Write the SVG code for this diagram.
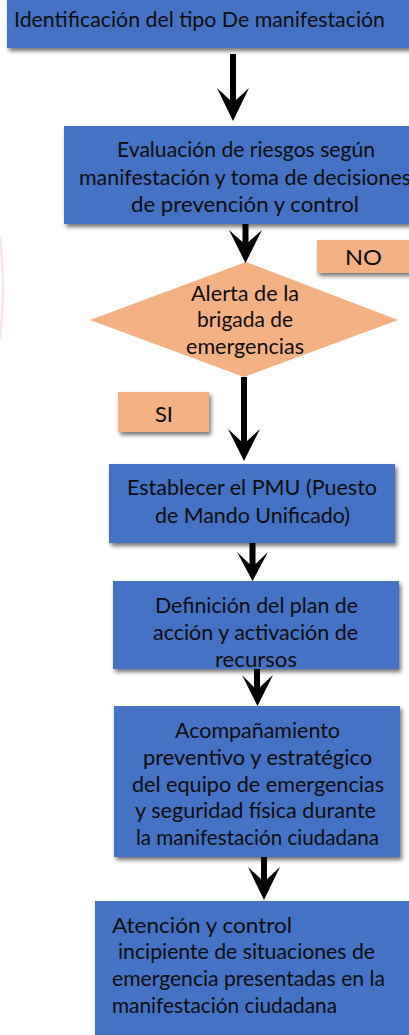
<svg xmlns="http://www.w3.org/2000/svg" width="409" height="1035" viewBox="0 0 409 1035">
<defs>
<filter id="sh" x="-10%" y="-10%" width="130%" height="140%">
<feDropShadow dx="2" dy="3" stdDeviation="2" flood-color="#000" flood-opacity="0.55"/>
</filter>
</defs>
<style>
.box{fill:#4472C4;filter:url(#sh)}
.lab{fill:#F4B183;filter:url(#sh)}
.dia{fill:#F4B183}
text{font-family:Lato,"Open Sans","Liberation Sans",sans-serif;font-size:21.5px;fill:#0d0d0d}
.c{text-anchor:middle}
.arrow{fill:#000}
</style>
<rect width="409" height="1035" fill="#fff"/>
<path d="M0,238 Q6,288 0,338" fill="none" stroke="#e9a89a" stroke-width="2.5" opacity="0.3"/>

<g id="n1">
<rect class="box" x="7" y="-4" width="410" height="52"/>
<text x="14" y="27" textLength="371" lengthAdjust="spacingAndGlyphs">Identificación del tipo De manifestación</text>
</g>

<g id="n2">
<rect class="box" x="64" y="126" width="360" height="98"/>
<text class="c" x="246" y="157" textLength="258" lengthAdjust="spacingAndGlyphs">Evaluación de riesgos según</text>
<text class="c" x="245" y="185" textLength="332" lengthAdjust="spacingAndGlyphs">manifestación y toma de decisiones</text>
<text class="c" x="245" y="212" textLength="228" lengthAdjust="spacingAndGlyphs">de prevención y control</text>
</g>

<g id="no">
<rect class="lab" x="317" y="240" width="100" height="33"/>
<text class="c" x="363.5" y="265" textLength="37" lengthAdjust="spacingAndGlyphs">NO</text>
</g>

<g id="n3">
<polygon class="dia" points="246,262 398,320 244,377 90,320"/>
<text class="c" x="245" y="301" textLength="108" lengthAdjust="spacingAndGlyphs">Alerta de la</text>
<text class="c" x="245" y="327" textLength="96" lengthAdjust="spacingAndGlyphs">brigada de</text>
<text class="c" x="245" y="354" textLength="118" lengthAdjust="spacingAndGlyphs">emergencias</text>
</g>

<g id="si">
<rect class="lab" x="118" y="392" width="91" height="40"/>
<text class="c" x="164" y="422" textLength="18" lengthAdjust="spacingAndGlyphs">SI</text>
</g>

<g id="n4">
<rect class="box" x="109" y="464" width="286" height="79"/>
<text class="c" x="252" y="495" textLength="250" lengthAdjust="spacingAndGlyphs">Establecer el PMU (Puesto</text>
<text class="c" x="252.5" y="523" textLength="195" lengthAdjust="spacingAndGlyphs">de Mando Unificado)</text>
</g>

<g id="n5">
<rect class="box" x="113" y="581" width="286" height="88"/>
<text class="c" x="256.5" y="613" textLength="203" lengthAdjust="spacingAndGlyphs">Definición del plan de</text>
<text class="c" x="255.5" y="640" textLength="205" lengthAdjust="spacingAndGlyphs">acción y activación de</text>
<text class="c" x="256" y="667" textLength="82" lengthAdjust="spacingAndGlyphs">recursos</text>
</g>

<g id="n6">
<rect class="box" x="114" y="706" width="286" height="151"/>
<text class="c" x="257.5" y="738" textLength="165" lengthAdjust="spacingAndGlyphs">Acompañamiento</text>
<text class="c" x="257.5" y="765" textLength="229" lengthAdjust="spacingAndGlyphs">preventivo y estratégico</text>
<text class="c" x="258" y="792" textLength="252" lengthAdjust="spacingAndGlyphs">del equipo de emergencias</text>
<text class="c" x="255.5" y="818" textLength="241" lengthAdjust="spacingAndGlyphs">y seguridad física durante</text>
<text class="c" x="257.5" y="845" textLength="243" lengthAdjust="spacingAndGlyphs">la manifestación ciudadana</text>
</g>

<g id="n7">
<rect class="box" x="95" y="901" width="330" height="150"/>
<text x="112" y="933" textLength="180" lengthAdjust="spacingAndGlyphs">Atención y control</text>
<text x="118" y="959" textLength="257" lengthAdjust="spacingAndGlyphs">incipiente de situaciones de</text>
<text x="112" y="986" textLength="273" lengthAdjust="spacingAndGlyphs">emergencia presentadas en la</text>
<text x="112" y="1013" textLength="225" lengthAdjust="spacingAndGlyphs">manifestación ciudadana</text>
</g>

<g id="connectors">
<path class="arrow" d="M230,54 L236,54 L236,100 L249,88 L233,121 L217,88 L230,100 Z"/>
<path class="arrow" d="M242.5,224 L248.5,224 L248.5,242 L262,230 L245.5,263 L229,230 L242.5,242 Z"/>
<path class="arrow" d="M241,377 L247,377 L247,441 L260,429 L244,461 L228,429 L241,441 Z"/>
<path class="arrow" d="M249.5,543 L255.5,543 L255.5,564 L268,552 L252.5,581 L237,552 L249.5,564 Z"/>
<path class="arrow" d="M254,669 L260,669 L260,687 L273,675 L257.5,706 L242,675 L254,687 Z"/>
<path class="arrow" d="M261,857 L267,857 L267,879 L280,867 L264,900 L248,867 L261,879 Z"/>
</g>
</svg>
